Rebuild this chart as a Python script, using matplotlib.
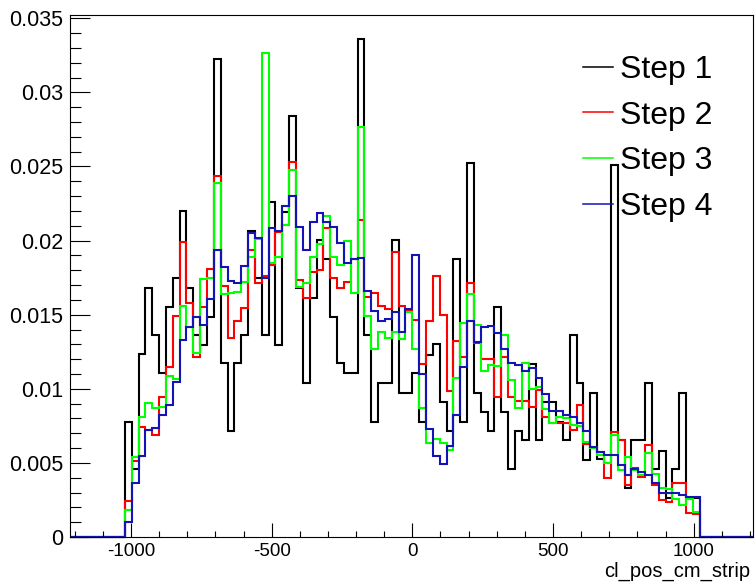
import numpy as np
import matplotlib
matplotlib.use("Agg")
import matplotlib.pyplot as plt
from matplotlib.ticker import MultipleLocator

# ---- data ----
hist_lo, hist_hi, n_bins = -1022.0, 1022.0, 84
labels = ["Step 1", "Step 2", "Step 3", "Step 4"]
colors = ["#000000", "#ff0000", "#00ff00", "#1414b4"]

step1 = [0.00778, 0.00457, 0.01233, 0.01678, 0.01363, 0.01104, 0.01554, 0.0175, 0.0220, 0.01678,
         0.01363, 0.01296, 0.01487, 0.03225, 0.01176, 0.00717, 0.01172, 0.01363, 0.02067, 0.0175,
         0.01363, 0.02263, 0.01296, 0.02195, 0.02843, 0.01678, 0.01037, 0.01615, 0.02004, 0.01876,
         0.01487, 0.01172, 0.01104, 0.01104, 0.03358, 0.01363, 0.00778, 0.01037, 0.01037, 0.02004,
         0.00974, 0.00974, 0.01104, 0.00778, 0.01228, 0.01300, 0.00909, 0.00715, 0.01874, 0.00778,
         0.02522, 0.00970, 0.00846, 0.00715, 0.01554, 0.00846, 0.00459, 0.00715, 0.00655, 0.01165,
         0.00655, 0.00909, 0.00909, 0.00778, 0.00655, 0.01363, 0.01037, 0.00520, 0.00970, 0.00524,
         0.00500, 0.02510, 0.00655, 0.00328, 0.00655, 0.00655, 0.01037, 0.00457, 0.00583, 0.00261,
         0.00457, 0.00970, 0.00261, 0.00265]
step2 = [0.00243, 0.00513, 0.00744, 0.00722, 0.00688, 0.00947, 0.01149, 0.01491, 0.01988, 0.01581,
         0.01217, 0.01554, 0.01806, 0.02436, 0.01694, 0.01345, 0.01457, 0.01547, 0.01937, 0.01712,
         0.01761, 0.01835, 0.02060, 0.02105, 0.02533, 0.01734, 0.01611, 0.01786, 0.01802, 0.02083,
         0.01745, 0.01678, 0.01723, 0.01874, 0.02139, 0.01622, 0.01644, 0.01561, 0.01536, 0.01925,
         0.01561, 0.01532, 0.01464, 0.01165, 0.01457, 0.01763, 0.01498, 0.00987, 0.01325, 0.01213,
         0.01712, 0.01311, 0.01199, 0.01199, 0.00942, 0.01217, 0.00947, 0.00920, 0.00920, 0.00875,
         0.00992, 0.00812, 0.00767, 0.00771, 0.00771, 0.00722, 0.00891, 0.00628, 0.00598, 0.00576,
         0.00396, 0.00711, 0.00655, 0.00351, 0.00463, 0.00407, 0.00621, 0.00351, 0.00250, 0.00238,
         0.00362, 0.00362, 0.00160, 0.00155]
step3 = [0.00182, 0.00542, 0.00812, 0.00906, 0.00868, 0.00880, 0.01086, 0.01064, 0.01559, 0.01419,
         0.01240, 0.01743, 0.01750, 0.02386, 0.01638, 0.01644, 0.01655, 0.01723, 0.01887, 0.02011,
         0.03264, 0.01847, 0.01892, 0.02105, 0.02476, 0.01689, 0.01712, 0.01892, 0.01975, 0.02166,
         0.01887, 0.01835, 0.02000, 0.01644, 0.02764, 0.01491, 0.01269, 0.01386, 0.01341, 0.01381,
         0.01336, 0.01520, 0.01269, 0.00868, 0.00632, 0.00659, 0.00632, 0.00587, 0.01071, 0.01442,
         0.01638, 0.01430, 0.01120, 0.01161, 0.01154, 0.01363, 0.01059, 0.00868, 0.01176, 0.00996,
         0.01010, 0.00862, 0.00771, 0.00812, 0.00800, 0.00756, 0.00750, 0.00643, 0.00598, 0.00553,
         0.00497, 0.00688, 0.00452, 0.00542, 0.00452, 0.00418, 0.00569, 0.00425, 0.00329, 0.00321,
         0.00254, 0.00216, 0.00254, 0.00170]
step4 = [0.00103, 0.00367, 0.00547, 0.00722, 0.00733, 0.00823, 0.00891, 0.01048, 0.01329, 0.01419,
         0.01487, 0.01430, 0.01604, 0.01937, 0.01820, 0.01730, 0.01712, 0.01829, 0.02054, 0.02015,
         0.01750, 0.02087, 0.02065, 0.02234, 0.02303, 0.02094, 0.01937, 0.02128, 0.02189, 0.02123,
         0.02090, 0.01982, 0.01847, 0.01874, 0.01881, 0.01660, 0.01525, 0.01460, 0.01471, 0.01520,
         0.01381, 0.01536, 0.01903, 0.01100, 0.00727, 0.00547, 0.00490, 0.00614, 0.00823, 0.01145,
         0.01457, 0.01318, 0.01419, 0.01424, 0.01379, 0.01269, 0.01176, 0.01161, 0.01122, 0.01138,
         0.01071, 0.00965, 0.00850, 0.00850, 0.00823, 0.00812, 0.00771, 0.00715, 0.00609, 0.00576,
         0.00553, 0.00556, 0.00486, 0.00418, 0.00457, 0.00441, 0.00418, 0.00362, 0.00299, 0.00299,
         0.00295, 0.00283, 0.00272, 0.00272]
series = [step1, step2, step3, step4]

x_label = "cl_pos_cm_strip"
xlim = (-1217, 1211)
ylim = (0, 0.03522)

# ---- figure ----
W, H = 755, 587
fig = plt.figure(figsize=(W / 100, H / 100), dpi=100)
plt.rcParams['font.family'] = ['Liberation Sans', 'DejaVu Sans']
ax = fig.add_axes([70 / W, 50 / H, 683 / W, 522 / H])

edges = np.linspace(hist_lo, hist_hi, n_bins + 1)
full_edges = np.concatenate([[xlim[0]], edges, [xlim[1]]])
for vals, col, lab in zip(series, colors, labels):
    v = np.concatenate([[0.0], np.asarray(vals), [0.0]])
    ax.stairs(v, full_edges, baseline=None, color=col, lw=1.5, label=lab, clip_on=False)

ax.set_xlim(*xlim)
ax.set_ylim(*ylim)

ax.xaxis.set_minor_locator(MultipleLocator(100))
ax.yaxis.set_minor_locator(MultipleLocator(0.001))
ax.set_yticks([0, 0.005, 0.01, 0.015, 0.02, 0.025, 0.03, 0.035])
ax.set_yticklabels(["0", "0.005", "0.01", "0.015", "0.02", "0.025", "0.03", "0.035"])
ax.set_xticks([-1000, -500, 0, 500, 1000])
ax.set_xticklabels(["-1000", "-500", "0", "500", "1000"])

ax.tick_params(axis='x', which='major', direction='in', length=10, width=0.8, labelsize=13.5, pad=4)
ax.tick_params(axis='x', which='minor', direction='in', length=4.3, width=0.8)
ax.tick_params(axis='y', which='major', direction='in', length=14.4, width=0.8, labelsize=15.5, pad=5)
ax.tick_params(axis='y', which='minor', direction='in', length=7.9, width=0.8)
for s in ax.spines.values():
    s.set_linewidth(0.8)

fig.text(750 / W, 1 - 571 / H, x_label, ha='right', va='center', fontsize=14.5)

leg = ax.legend(loc='upper left', bbox_to_anchor=(583 / W, 1 - 55 / H), bbox_transform=fig.transFigure,
                frameon=False, fontsize=23, handlelength=0.95, handletextpad=0.22,
                labelspacing=0.49, borderpad=0, borderaxespad=0)
for h in leg.get_lines():
    h.set_linewidth(1.1)

fig.savefig("out.png", dpi=100)
